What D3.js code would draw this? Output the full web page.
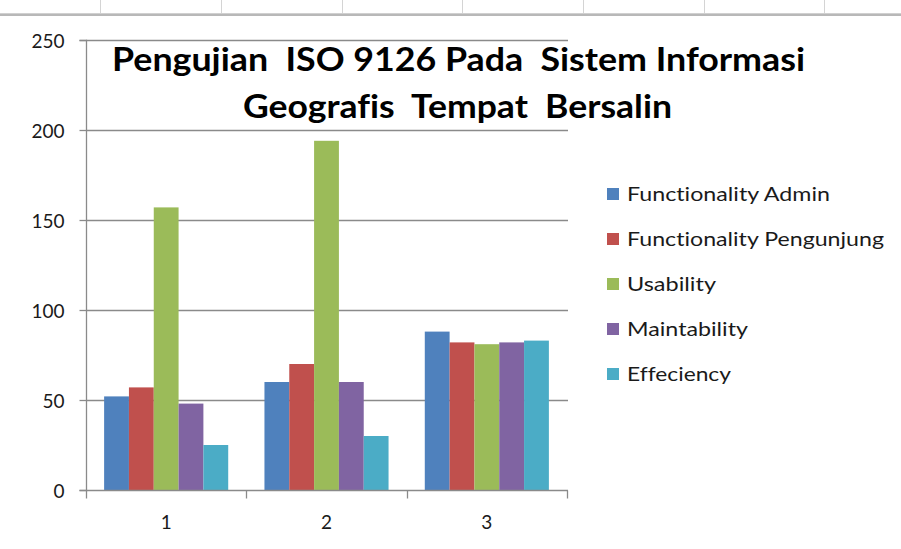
<!DOCTYPE html>
<html><head><meta charset="utf-8">
<script src="https://cdn.jsdelivr.net/npm/d3@7"></script>
<style>
html,body{margin:0;padding:0;background:#fff;}
text{font-family:Lato,"Open Sans",sans-serif;font-variant-ligatures:none;font-feature-settings:"liga" 0;}
</style></head>
<body><svg id="c" width="901" height="549"></svg>
<script>
const categories = ["1","2","3"];
const seriesNames = ["Functionality Admin","Functionality Pengunjung","Usability","Maintability","Effeciency"];
const functionalityAdmin = [52, 60, 88];
const functionalityPengunjung = [57, 70, 82];
const usability = [157, 194, 81];
const maintability = [48, 60, 82];
const effeciency = [25, 30, 83];
const yTicks = [0, 50, 100, 150, 200, 250];
const titleLines = ["Pengujian  ISO 9126 Pada  Sistem Informasi", "Geografis  Tempat  Bersalin"];
const colors = ["#4F81BD","#C0504D","#9BBB59","#8064A2","#4BACC6"];

const values = [functionalityAdmin, functionalityPengunjung, usability, maintability, effeciency];
const svg = d3.select("#c");

// spreadsheet cell grid at top
const cellX = [100, 221, 342, 462, 583, 704, 824];
svg.selectAll("line.cell").data(cellX).join("line")
  .attr("x1", d=>d+0.5).attr("x2", d=>d+0.5).attr("y1", 0).attr("y2", 13)
  .attr("stroke", "#d4d4d4").attr("stroke-width", 1);
svg.append("line").attr("x1",0).attr("x2",901).attr("y1",13.5).attr("y2",13.5).attr("stroke","#d0d0d0").attr("stroke-width",1);
svg.append("line").attr("x1",0).attr("x2",901).attr("y1",15).attr("y2",15).attr("stroke","#a0a0a0").attr("stroke-width",1.4);

const pL = 86, pR = 567, pT = 40, pB = 490;
const y = d3.scaleLinear().domain([0, 250]).range([pB, pT]);
const x = d3.scaleBand().domain(categories).range([pL, pR]).paddingInner(0).paddingOuter(0);
const xs = d3.scaleBand().domain(d3.range(seriesNames.length)).range([0, x.bandwidth()]).paddingInner(0).paddingOuter(0.73);

// gridlines
svg.append("g").selectAll("line").data(yTicks.filter(d=>d>0)).join("line")
  .attr("x1", pL).attr("x2", pR + 1).attr("y1", d=>Math.round(y(d))+0.5).attr("y2", d=>Math.round(y(d))+0.5)
  .attr("stroke", "#8a8a8a").attr("stroke-width", 1.3);

// bars
const g = svg.append("g");
seriesNames.forEach((name, si) => {
  g.selectAll("rect.s"+si).data(categories).join("rect")
    .attr("class", "s"+si)
    .attr("x", c => x(c) + xs(si))
    .attr("width", xs.bandwidth())
    .attr("y", (c, ci) => y(values[si][ci]))
    .attr("height", (c, ci) => y(0) - y(values[si][ci]))
    .attr("fill", colors[si]);
});

// y axis
const yAxis = d3.axisLeft(y).tickValues(yTicks).tickSize(7).tickPadding(15);
const ya = svg.append("g").attr("transform", `translate(${pL+0.5},0)`).call(yAxis);
ya.select(".domain").attr("stroke", "#8a8a8a").attr("stroke-width", 1.3).attr("fill","none").attr("d", `M-7,${pT+0.5}H0V${pB+0.5}H-7`);
ya.selectAll(".tick line").attr("stroke", "#8a8a8a").attr("stroke-width", 1.3);
ya.selectAll(".tick text").attr("font-size", 19).attr("fill", "#1a1a1a").attr("font-family", "Lato").attr("dy", "0.4em");

// x axis
const xAxis = d3.axisBottom(x).tickSize(0).tickPadding(25);
const xa = svg.append("g").attr("transform", `translate(0,${pB+0.5})`).call(xAxis);
xa.select(".domain").attr("stroke", "#8a8a8a").attr("stroke-width", 1.3).attr("d", `M${pL},0H${pR+1}`);
xa.selectAll(".tick text").attr("font-size", 19).attr("fill", "#1a1a1a").attr("font-family", "Lato");
const edges = [...categories.map(c => x(c)), x(categories[categories.length-1]) + x.bandwidth()];
xa.selectAll("line.edge").data(edges).join("line").attr("class","edge")
  .attr("x1", d=>Math.round(d)+0.5).attr("x2", d=>Math.round(d)+0.5).attr("y1", 0).attr("y2", 8)
  .attr("stroke", "#8a8a8a").attr("stroke-width", 1.3);

// title
const titleSpecs = [{x0:112, x1:805, yb:71}, {x0:243, x1:672, yb:118}];
titleLines.forEach((t, i) => {
  const s = titleSpecs[i];
  svg.append("text").attr("x", s.x0).attr("y", s.yb)
    .attr("font-size", 33).attr("font-weight", "bold").attr("fill", "#000")
    .attr("xml:space", "preserve").style("white-space", "pre")
    .attr("textLength", s.x1 - s.x0).attr("lengthAdjust", "spacingAndGlyphs")
    .text(t);
});

// legend
const legendWidths = [203, 257, 89, 121, 104];
const lg = svg.append("g");
seriesNames.forEach((name, i) => {
  const cy = 194 + i * 45;
  lg.append("rect").attr("x", 607).attr("y", cy - 6).attr("width", 12).attr("height", 12).attr("fill", colors[i]);
  lg.append("text").attr("x", 627).attr("y", cy).attr("dy", "0.36em")
    .attr("font-size", 19).attr("fill", "#1a1a1a")
    .attr("textLength", legendWidths[i]).attr("lengthAdjust", "spacingAndGlyphs")
    .text(name);
});
</script>
</body></html>
